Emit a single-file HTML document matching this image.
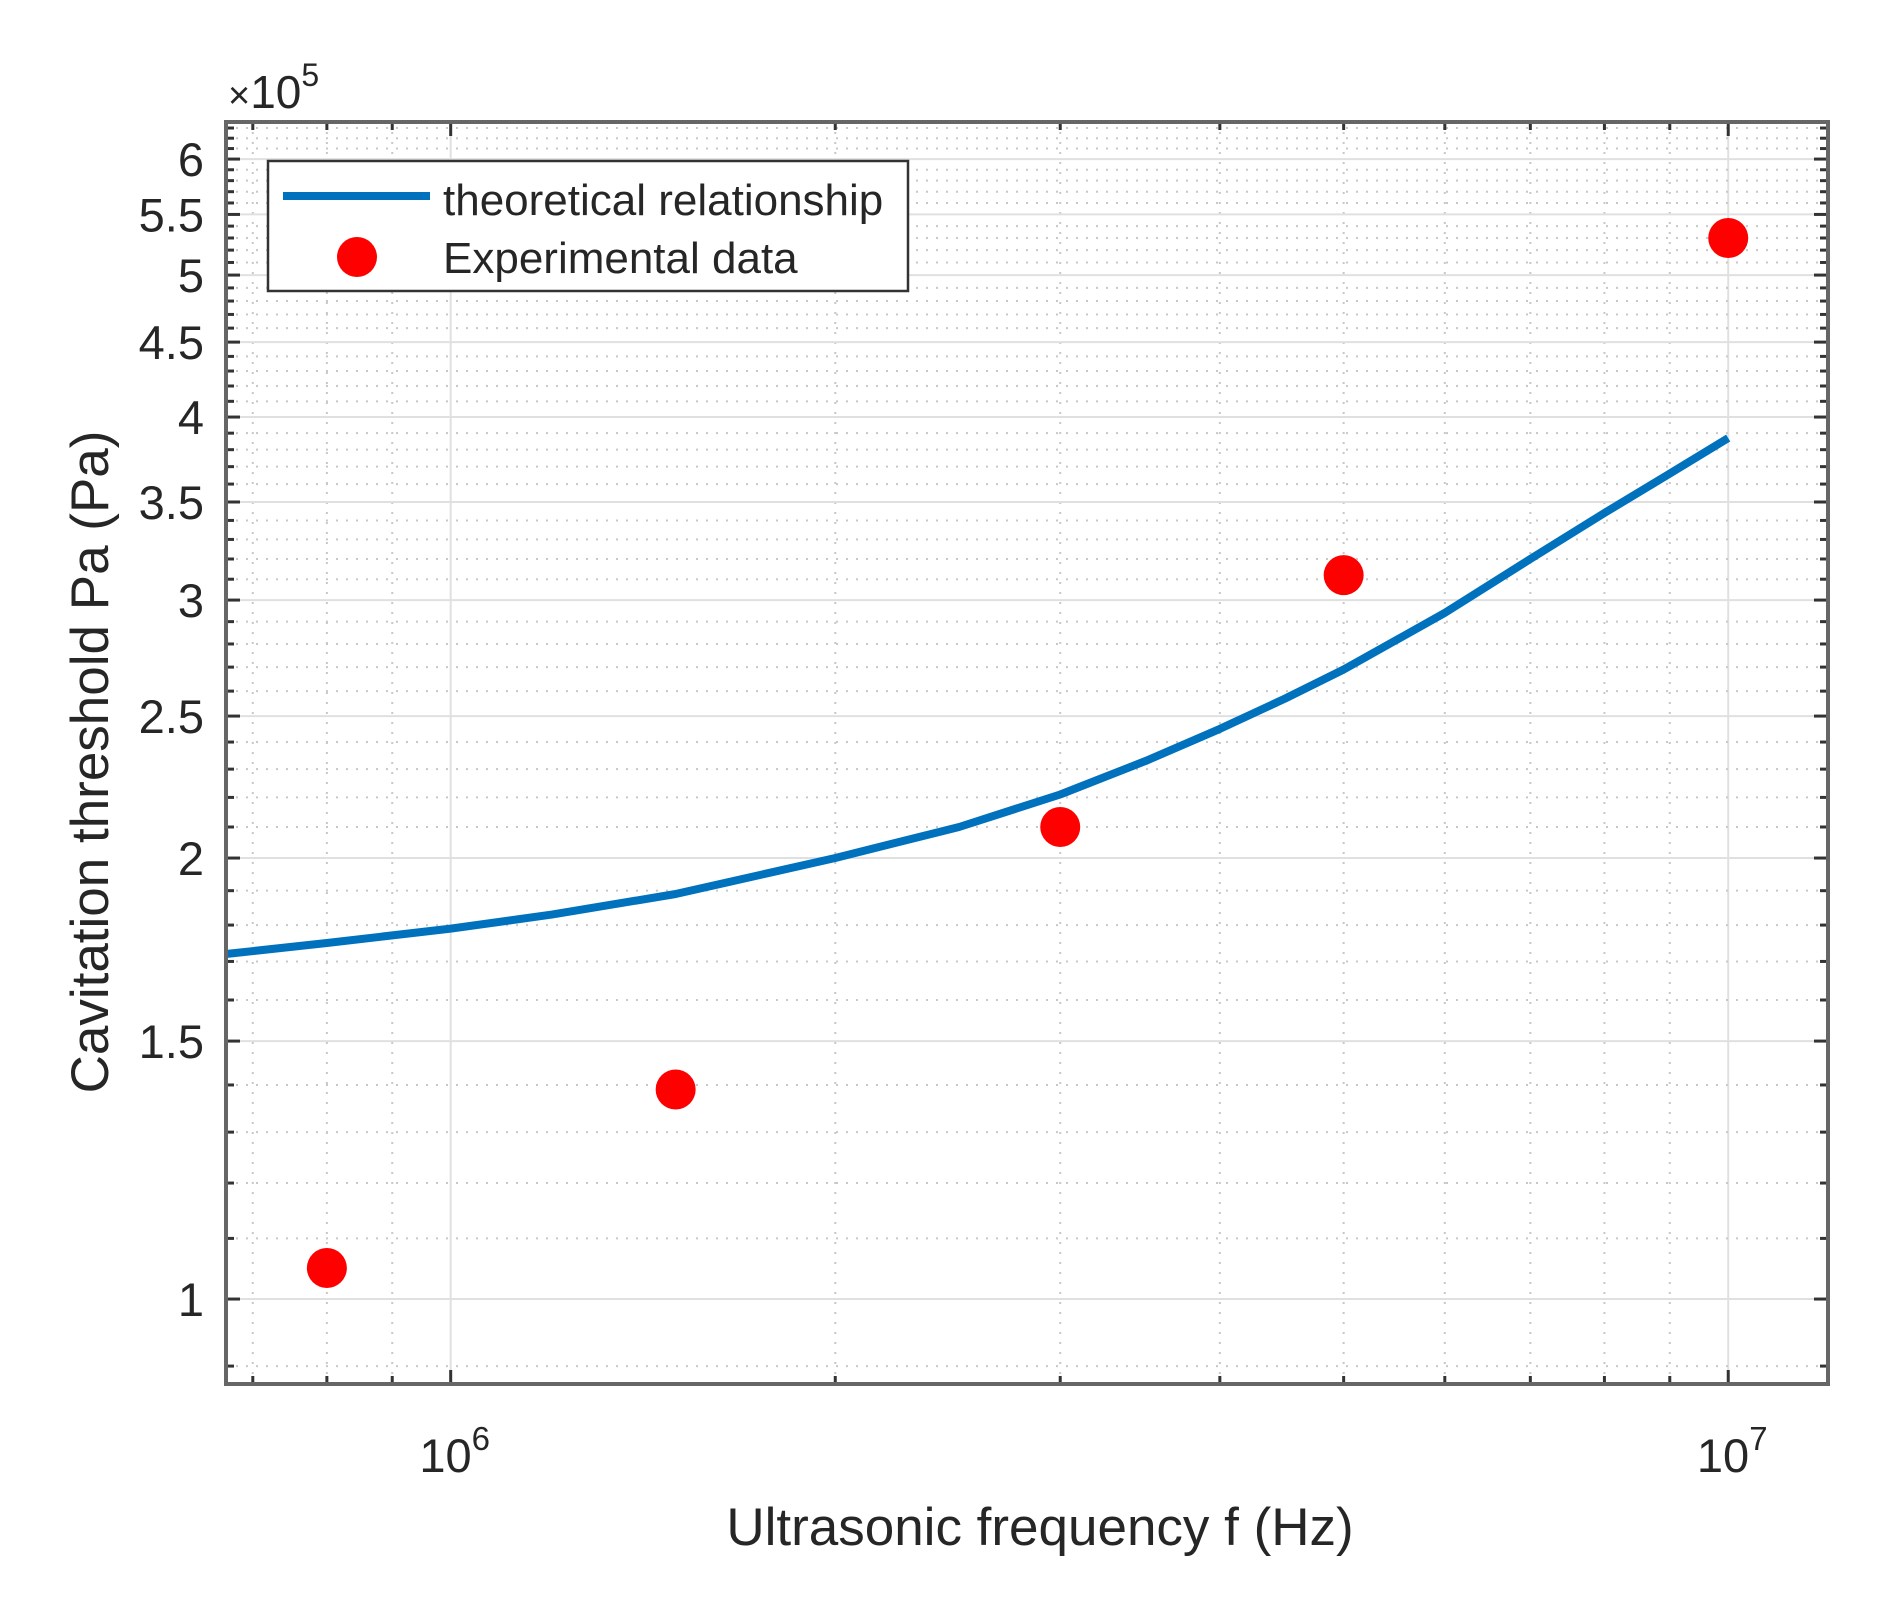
<!DOCTYPE html>
<html><head><meta charset="utf-8"><style>
html,body{margin:0;padding:0;background:#fff;}
svg{display:block;font-family:"Liberation Sans",Arial,sans-serif;}
</style></head><body>
<svg id="chart" width="1893" height="1610" viewBox="0 0 1893 1610" xmlns="http://www.w3.org/2000/svg">
<rect width="1893" height="1610" fill="#fff"/>
<g id="grid"></g>
<g id="series"></g>
<g id="axes"></g>
<g id="legend">
  <rect x="268" y="161" width="640" height="130" fill="#fff" stroke="#333" stroke-width="2.5"/>
  <line x1="283" y1="196" x2="430" y2="196" stroke="#0072BD" stroke-width="8"/>
  <text x="443" y="215" font-size="44" fill="#262626">theoretical relationship</text>
  <circle cx="357" cy="257" r="20" fill="#f00"/>
  <text x="443" y="273" font-size="44" fill="#262626">Experimental data</text>
</g>
<text transform="translate(108,762) rotate(-90)" text-anchor="middle" font-size="53" fill="#262626">Cavitation threshold Pa (Pa)</text>
<text x="1040" y="1545" text-anchor="middle" font-size="53" fill="#262626">Ultrasonic frequency f (Hz)</text>
<text x="228" y="108" font-size="46" fill="#262626"><tspan font-size="38">×</tspan>10<tspan dy="-22" font-size="32">5</tspan></text>
</svg>
<script>
// data
const curveFreq = [6.67e5, 8e5, 1e6, 1.2e6, 1.5e6, 2e6, 2.5e6, 3e6, 3.5e6, 4e6, 4.5e6, 5e6, 6e6, 7e6, 8e6, 9e6, 1e7];
const curvePa = [1.72, 1.75, 1.79, 1.83, 1.89, 2.0, 2.1, 2.21, 2.33, 2.45, 2.57, 2.69, 2.94, 3.2, 3.44, 3.66, 3.87];
const expFreq = [8e5, 1.5e6, 3e6, 5e6, 1e7];
const expPa = [1.05, 1.39, 2.1, 3.12, 5.3];
const yTickValues = [1, 1.5, 2, 2.5, 3, 3.5, 4, 4.5, 5, 5.5, 6];
const yTickLabels = ["1", "1.5", "2", "2.5", "3", "3.5", "4", "4.5", "5", "5.5", "6"];
const xMajorExps = [6, 7];

const NS = "http://www.w3.org/2000/svg";
const L = 226, R = 1828, T = 122, B = 1384;
const xMin = Math.log10(6.67e5), xMax = Math.log10(1.197e7);
const yMin = Math.log10(0.875), yMax = Math.log10(6.36);
function xs(v){ return L + (Math.log10(v) - xMin) / (xMax - xMin) * (R - L); }
function ys(v){ return B - (Math.log10(v) - yMin) / (yMax - yMin) * (B - T); }
function mk(tag, attrs, parent){ const e = document.createElementNS(NS, tag); for (const k in attrs) e.setAttribute(k, attrs[k]); parent.appendChild(e); return e; }

const grid = document.getElementById('grid');
const axes = document.getElementById('axes');
const series = document.getElementById('series');

for (let d = 5; d <= 7; d++) {
  for (let m = 1; m <= 9; m++) {
    const v = m * Math.pow(10, d);
    if (v < 6.67e5 || v > 1.197e7) continue;
    const x = xs(v);
    const major = (m === 1);
    const ln = mk('line', {x1:x, y1:T, x2:x, y2:B, stroke: major ? '#e0e0e0' : '#c8c8c8', 'stroke-width': 2, 'stroke-dasharray': major ? 'none' : '2 8'}, grid);
    
    
    const t1 = mk('line', {x1:x, y1:B, x2:x, y2:B - (major ? 14 : 8), stroke:'#333', 'stroke-width':3}, axes);
    
    
    const t2 = mk('line', {x1:x, y1:T, x2:x, y2:T + (major ? 14 : 8), stroke:'#333', 'stroke-width':3}, axes);
    
    
  }
}
for (let i = 9; i <= 63; i++) {
  const v = i / 10;
  const y = ys(v);
  const major = (i % 5 === 0);
  const ln = mk('line', {x1:L, y1:y, x2:R, y2:y, stroke: major ? '#e0e0e0' : '#c8c8c8', 'stroke-width': 2, 'stroke-dasharray': major ? 'none' : '2 8'}, grid);
  
  
  const t1 = mk('line', {x1:L, y1:y, x2:L + (major ? 14 : 8), y2:y, stroke:'#333', 'stroke-width':3}, axes);
  
  
  const t2 = mk('line', {x1:R, y1:y, x2:R - (major ? 14 : 8), y2:y, stroke:'#333', 'stroke-width':3}, axes);
  
  
}
const box = mk('rect', {x:L, y:T, width:R-L, height:B-T, fill:'none', stroke:'#666', 'stroke-width':4}, axes);



yTickValues.forEach((v, i) => {
  const t = mk('text', {x:204, y:ys(v) + 17, 'text-anchor':'end', 'font-size':47, fill:'#262626'}, axes);
  t.textContent = yTickLabels[i];
  
  
});
xMajorExps.forEach(e => {
  const x = xs(Math.pow(10, e));
  const t = mk('text', {x:x + 4, y:1472, 'text-anchor':'middle', 'font-size':47, fill:'#262626'}, axes);
  
  
  const a = document.createElementNS(NS, 'tspan'); a.textContent = '10'; t.appendChild(a);
  const b = document.createElementNS(NS, 'tspan'); b.setAttribute('dy', '-22'); b.setAttribute('font-size', '33'); b.textContent = String(e); t.appendChild(b);
});

const d = curveFreq.map((f, i) => (i ? 'L' : 'M') + xs(f).toFixed(1) + ',' + ys(curvePa[i]).toFixed(1)).join(' ');
const path = mk('path', {d:d, fill:'none', stroke:'#0072BD', 'stroke-width':8, 'stroke-linejoin':'round'}, series);


expFreq.forEach((f, i) => {
  const c = mk('circle', {cx:xs(f), cy:ys(expPa[i]), r:20, fill:'#f00'}, series);
  
  
});
</script>
</body></html>
